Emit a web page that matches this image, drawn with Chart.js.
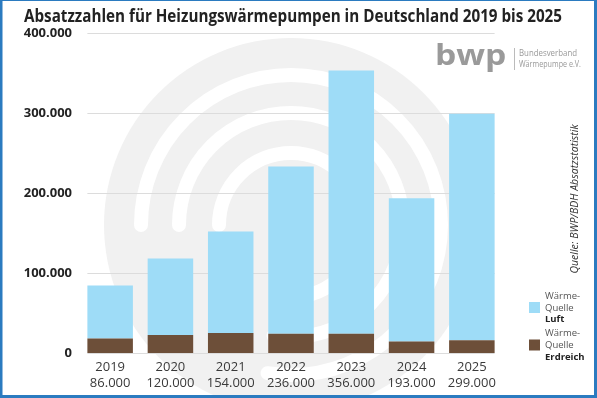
<!DOCTYPE html>
<html>
<head>
<meta charset="utf-8">
<script src="https://cdn.jsdelivr.net/npm/chart.js@4"></script>
<style>
  html, body { margin: 0; padding: 0; background: #fff; }
  canvas { display: block; }
</style>
</head>
<body>
<canvas id="chart" width="597" height="398"></canvas>
<script>
const years = ['2019', '2020', '2021', '2022', '2023', '2024', '2025'];
const totalLabels = ['86.000', '120.000', '154.000', '236.000', '356.000', '193.000', '299.000'];
const erdreich = [18000, 22500, 25000, 24000, 24000, 14500, 16000];
const luft = [66500, 95500, 127000, 209000, 329000, 179000, 283000];
const yTicks = [0, 100000, 200000, 300000, 400000];

const LUFT_COLOR = '#9edcf7';
const ERD_COLOR = '#6d4f39';
const FONT = '"Open Sans", "Noto Sans", sans-serif';

// watermark swirl + grid limited to the bar span
const backdrop = {
  id: 'backdrop',
  beforeDraw(chart) {
    const ctx = chart.ctx;
    ctx.save();
    ctx.fillStyle = '#fff';
    ctx.fillRect(0, 0, chart.width, chart.height);

    const cx = 291, cy = 225;
    ctx.fillStyle = '#f1f1f1';
    ctx.beginPath();
    ctx.arc(cx, cy, 187, 0, Math.PI * 2);
    ctx.fill();

    ctx.strokeStyle = '#fff';
    ctx.lineWidth = 14;
    ctx.lineCap = 'round';
    [[150, 2.55], [112, 2.55], [72, 2.5]].forEach(([r, end]) => {
      ctx.beginPath();
      ctx.arc(cx, cy, r, Math.PI, Math.PI * end);
      ctx.stroke();
    });
    ctx.restore();
  },
  beforeDatasetsDraw(chart) {
    const ctx = chart.ctx;
    const bars = chart.getDatasetMeta(0).data;
    const first = bars[0], last = bars[bars.length - 1];
    const x0 = first.x - first.width / 2;
    const x1 = last.x + last.width / 2;
    ctx.save();
    ctx.strokeStyle = '#dcdcdc';
    ctx.lineWidth = 1;
    yTicks.forEach(v => {
      const y = Math.round(chart.scales.y.getPixelForValue(v)) + 0.5;
      ctx.beginPath();
      ctx.moveTo(x0, y);
      ctx.lineTo(x1, y);
      ctx.stroke();
    });
    ctx.restore();
  },
  afterDraw(chart) {
    const ctx = chart.ctx;
    ctx.save();

    // title
    ctx.fillStyle = '#222';
    ctx.font = 'bold 17px ' + FONT;
    ctx.textBaseline = 'alphabetic';
    ctx.fillText('Absatzzahlen für Heizungswärmepumpen in Deutschland 2019 bis 2025', 24, 21.5, 538);

    // bwp logo
    ctx.fillStyle = '#9a9a9a';
    ctx.font = 'bold 28px ' + FONT;
    ctx.save();
    ctx.translate(435, 65);
    ctx.scale(1.2, 1);
    ctx.fillText('bwp', 0, 0);
    ctx.restore();
    ctx.fillStyle = '#bbb';
    ctx.fillRect(514, 48, 1, 22);
    ctx.fillStyle = '#999';
    ctx.font = '8.5px ' + FONT;
    ctx.textBaseline = 'middle';
    ctx.fillText('Bundesverband', 519, 54, 58);
    ctx.fillText('Wärmepumpe e.V.', 519, 65, 62);

    // source, rotated
    ctx.save();
    ctx.translate(575, 199);
    ctx.rotate(-Math.PI / 2);
    ctx.fillStyle = '#333';
    ctx.font = 'italic 10.5px ' + FONT;
    ctx.textAlign = 'center';
    ctx.fillText('Quelle: BWP/BDH Absatzstatistik', 0, 0, 150);
    ctx.restore();

    // legend
    const items = [
      { color: LUFT_COLOR, y: 296, last: 'Luft' },
      { color: ERD_COLOR, y: 333.5, last: 'Erdreich' }
    ];
    items.forEach(it => {
      ctx.fillStyle = it.color;
      ctx.fillRect(529, it.y + 6, 11, 11);
      ctx.fillStyle = '#555';
      ctx.font = '9.5px ' + FONT;
      ctx.fillText('Wärme-', 545, it.y);
      ctx.fillText('Quelle', 545, it.y + 11.8);
      ctx.fillStyle = '#222';
      ctx.font = 'bold 9.5px ' + FONT;
      ctx.fillText(it.last, 545, it.y + 23.5);
    });

    // frame
    ctx.fillStyle = '#2b7bc0';
    ctx.fillRect(0, 0, 597, 1);
    ctx.fillRect(0, 0, 2.5, 398);
    ctx.fillRect(594, 0, 3, 398);
    ctx.fillRect(0, 395, 597, 3);
    ctx.restore();
  }
};

new Chart(document.getElementById('chart'), {
  type: 'bar',
  data: {
    labels: years.map((y, i) => [y, totalLabels[i]]),
    datasets: [
      {
        label: 'Wärme-Quelle Erdreich',
        data: erdreich,
        backgroundColor: ERD_COLOR,
        categoryPercentage: 0.755,
        barPercentage: 1
      },
      {
        label: 'Wärme-Quelle Luft',
        data: luft,
        backgroundColor: LUFT_COLOR,
        categoryPercentage: 0.755,
        barPercentage: 1
      }
    ]
  },
  options: {
    responsive: false,
    animation: false,
    devicePixelRatio: 1,
    layout: { padding: { top: 33, right: 95, bottom: 0, left: 0 } },
    plugins: {
      legend: { display: false },
      tooltip: { enabled: false }
    },
    scales: {
      x: {
        stacked: true,
        grid: { display: false, drawTicks: false },
        border: { display: false },
        ticks: {
          color: '#3a3a3a',
          padding: 6,
          maxRotation: 0,
          font: { family: FONT, size: 13, lineHeight: 1.25 }
        },
        afterFit(s) { s.height = 45; }
      },
      y: {
        stacked: true,
        min: 0,
        max: 400000,
        grid: { display: false, drawTicks: false },
        border: { display: false },
        afterBuildTicks(s) { s.ticks = yTicks.map(v => ({ value: v })); },
        ticks: {
          color: '#222',
          padding: 8,
          font: { family: FONT, size: 13, weight: 'bold' },
          callback: v => v.toLocaleString('de-DE')
        },
        afterFit(s) { s.width = 80; }
      }
    }
  },
  plugins: [backdrop]
});
</script>
</body>
</html>
